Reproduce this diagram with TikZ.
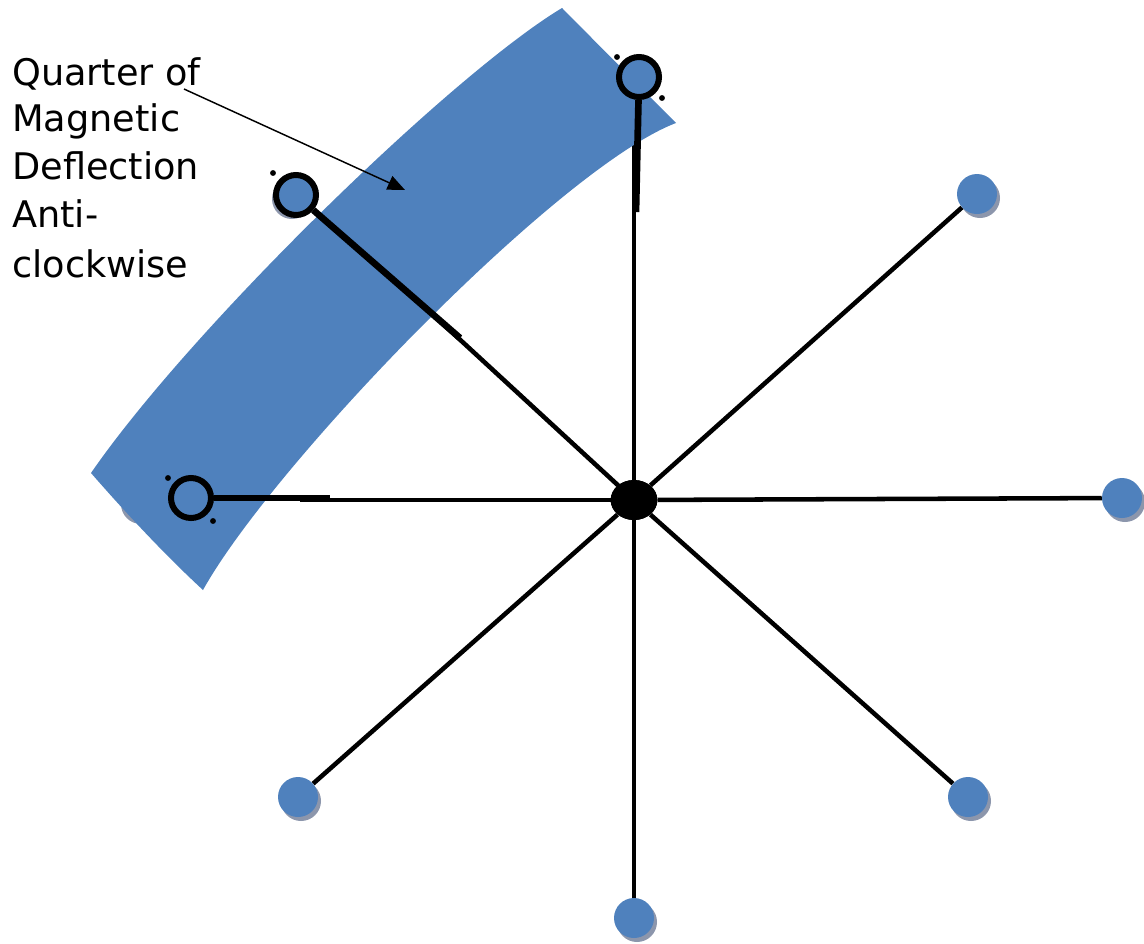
\documentclass[tikz,border=0pt]{standalone}
\usepackage{fontspec}
\newfontfamily\labfont{DejaVu Sans}
\usetikzlibrary{arrows.meta,shapes.geometric}
\definecolor{bandblue}{RGB}{79,129,189}
\definecolor{dotblue}{RGB}{79,129,189}
\definecolor{shadowgray}{RGB}{140,150,172}
\begin{document}
\begin{tikzpicture}[x=0.75pt,y=-0.75pt,
  spoke/.style={line width=3.4pt, black},
  deflect/.style={line width=5pt, black},
  bluedot/.style={circle, fill=dotblue, minimum size=30pt, inner sep=0pt},
  ringnode/.style={circle, draw=black, line width=4.5pt, fill=dotblue, minimum size=30pt, inner sep=0pt},
  hubnode/.style={ellipse, fill=black, minimum width=35pt, minimum height=30pt, inner sep=0pt},
  lab/.style={font=\labfont\fontsize{27.5}{32}\selectfont, anchor=base west, inner sep=0pt}
]
\useasboundingbox (0,0) rectangle (1144,943);

% shadows of blue dots
\foreach \x/\y in {977/194,1122/498,968/797,634/918,298/797}
  \fill[shadowgray] (\x+3,\y+4) circle (15pt);
\fill[shadowgray] (141,504) circle (15pt);
\fill[shadowgray] (292,199) circle (15pt);

% hub and outer dots
\node[hubnode] (hub) at (634,500) {};
\node[bluedot] (dUR) at (977,194) {};
\node[bluedot] (dR)  at (1122,498) {};
\node[bluedot] (dLR) at (968,797) {};
\node[bluedot] (dB)  at (634,918) {};
\node[bluedot] (dLL) at (298,797) {};

% hidden ends of the deflected spokes (under the band)
\coordinate (hT)  at (634,130);
\coordinate (hUL) at (430,312);
\coordinate (hL)  at (300,500);

% spokes
\draw[spoke] (hub) -- (dUR);
\draw[spoke] (hub) -- (dR);
\draw[spoke] (hub) -- (dLR);
\draw[spoke] (hub) -- (dB);
\draw[spoke] (hub.center) -- (hT);
\draw[spoke] (hub.center) -- (hUL);
\draw[spoke] (hub.center) -- (hL);
\draw[spoke] (hub) -- (dLL);
\node[hubnode] (hub2) at (634,500) {};

% the band: quarter of magnetic deflection
\fill[bandblue]
  (91,473) .. controls (191,328) and (452,74) .. (562,8)
  -- (676,123)
  .. controls (560,167) and (273,464) .. (203,590)
  .. controls (165,555) and (125,512) .. (91,473) -- cycle;

% deflected rings
\node[ringnode] (rT)  at (639,77) {};
\node[ringnode] (rUL) at (296,195) {};
\node[ringnode] (rL)  at (191,498) {};

\coordinate (eT)  at (636,212);
\coordinate (eUL) at (460,338);
\coordinate (eL)  at (330,498);
\draw[deflect] (rT) -- (eT);
\draw[deflect] (rUL) -- (eUL);
\draw[deflect] (rL) -- (eL);

% small dots beside the rings
\fill (617,57) circle (2.2pt);
\fill (662,98) circle (2.2pt);
\fill (273,173) circle (2.2pt);
\fill (168,478) circle (2.2pt);
\fill (213,521) circle (2.2pt);

% label
\node[lab] (t1) at (12,85)  {Quarter of};
\node[lab] (t2) at (12,131) {Magnetic};
\node[lab] (t3) at (12,179) {Deflection};
\node[lab] (t4) at (12,227) {Anti-};
\node[lab] (t5) at (12,277) {clockwise};

\coordinate (aS) at (184,89);
\coordinate (aE) at (405,190);
\draw[line width=1.1pt, -{Triangle[length=13pt,width=11pt]}] (aS) -- (aE);
\end{tikzpicture}
\end{document}
